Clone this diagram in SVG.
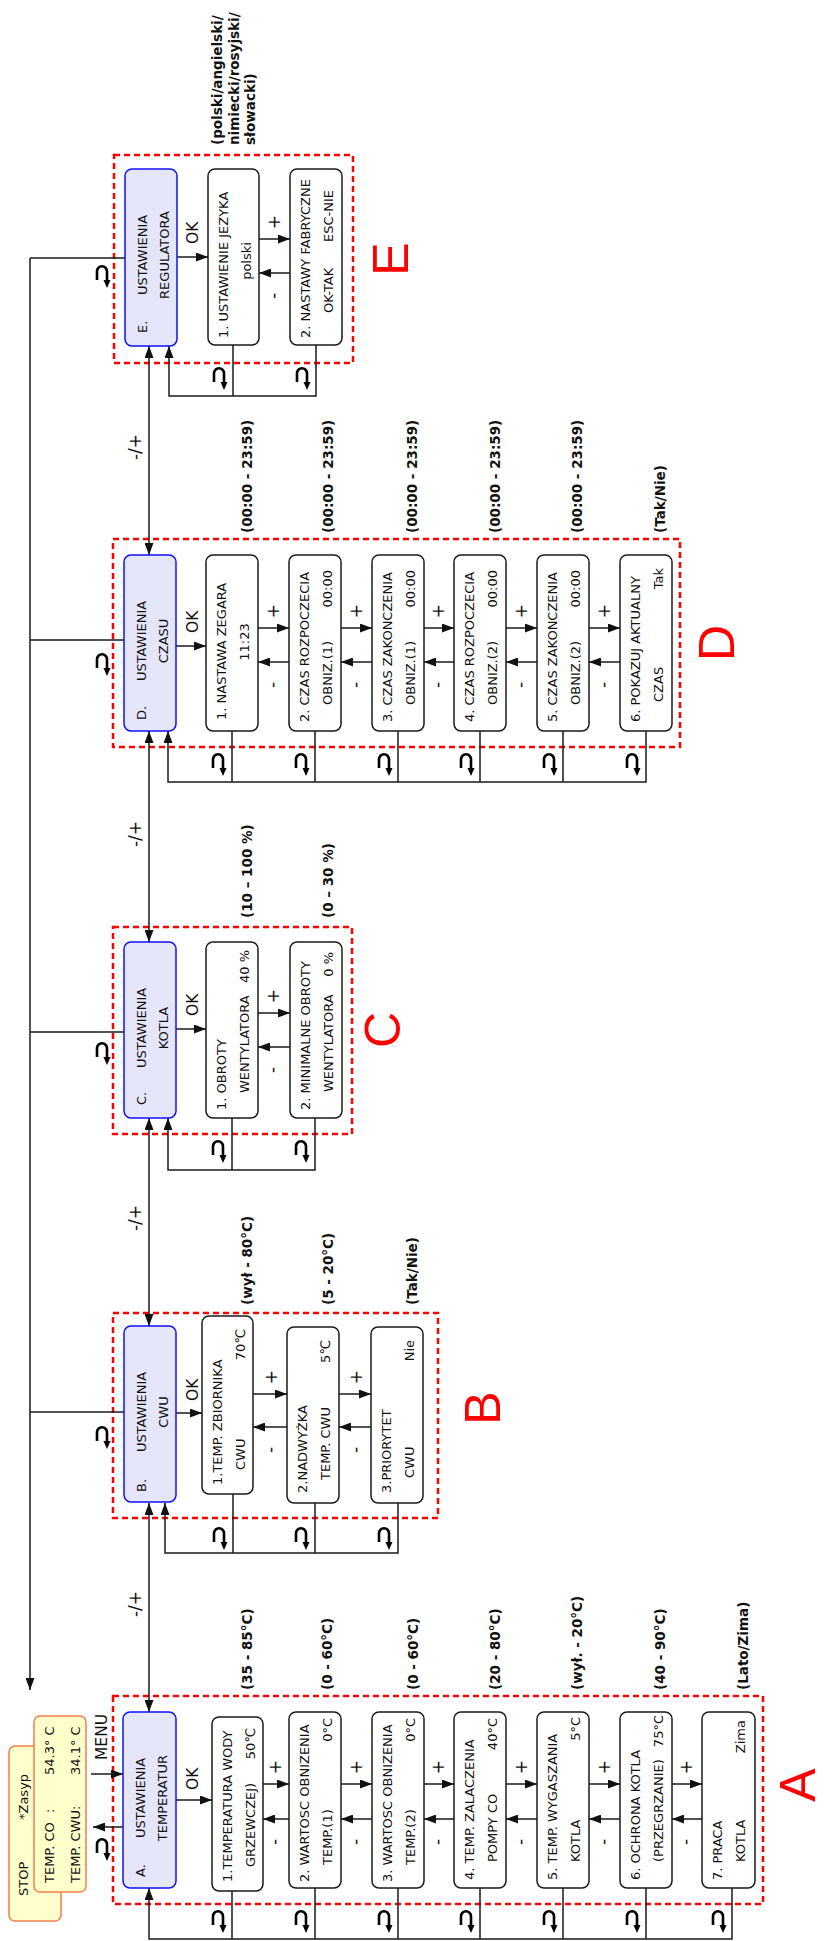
<svg xmlns="http://www.w3.org/2000/svg" width="826" height="1941" viewBox="0 0 826 1941">
<defs>
<style>
.box{fill:#fff;stroke:#1a1a1a;stroke-width:1.5}
.main{fill:#e6e6fa;stroke:#1010ff;stroke-width:1.5}
.yel{fill:#ffffcc;stroke:#f07f50;stroke-width:1.5}
.grp{fill:none;stroke:#ff0000;stroke-width:2.5;stroke-dasharray:6 4}
.ln{fill:none;stroke:#1a1a1a;stroke-width:1.5}
.t{font-family:"DejaVu Sans",Verdana,sans-serif;font-size:13px;fill:#111}
.r{font-weight:bold;font-size:13.5px}
.s{font-size:17px}
.k{font-size:15.5px}
.e{text-anchor:end}
.m{text-anchor:middle}
.big{font-family:"Liberation Sans",Arial,sans-serif;font-size:50px;fill:#ff0000;text-anchor:middle}
</style>
<marker id="ah" viewBox="0 0 12 9" refX="12" refY="4.5" markerWidth="12" markerHeight="9" markerUnits="userSpaceOnUse" orient="auto-start-reverse"><path d="M0,0 L12,4.5 L0,9 z" fill="#111"/></marker>
<g id="ret"><path d="M-5,15 V6.3 A5,5 0 0 1 5,6.3 V15" fill="none" stroke="#000" stroke-width="2.6"/><path d="M1.5,15 L8.5,15 L5,23 z" fill="#000"/></g>
</defs>
<rect width="826" height="1941" fill="#fff"/>

<g id="groups">
<rect class="grp" x="113" y="1696" width="650" height="208"/>
<rect class="grp" x="113" y="1313" width="325" height="205"/>
<rect class="grp" x="113" y="927" width="239" height="207"/>
<rect class="grp" x="113" y="539" width="567" height="208"/>
<rect class="grp" x="114" y="155" width="239" height="208"/>
</g>

<g id="connectors">
<path class="ln" d="M30,258 V1690" marker-end="url(#ah)"/>
<path class="ln" d="M30,258 H125 M30,640 H124 M30,1032 H124 M30,1412 H124"/>
<use href="#ret" x="102" y="265"/>
<use href="#ret" x="102" y="653"/>
<use href="#ret" x="102" y="1042"/>
<use href="#ret" x="102" y="1426"/>
<use href="#ret" x="102" y="1838"/>
<line class="ln" x1="91" y1="1774" x2="123" y2="1774" marker-end="url(#ah)"/>
<line class="ln" x1="123" y1="1827" x2="93" y2="1827" marker-end="url(#ah)"/>
<line class="ln" x1="176" y1="1800" x2="212" y2="1800" marker-end="url(#ah)"/>
<line class="ln" x1="176" y1="1413" x2="202" y2="1413" marker-end="url(#ah)"/>
<line class="ln" x1="176" y1="1029" x2="206" y2="1029" marker-end="url(#ah)"/>
<line class="ln" x1="176" y1="646" x2="206" y2="646" marker-end="url(#ah)"/>
<line class="ln" x1="177" y1="257" x2="208" y2="257" marker-end="url(#ah)"/>
<line class="ln" x1="149" y1="346" x2="149" y2="555" marker-start="url(#ah)" marker-end="url(#ah)"/>
<line class="ln" x1="149" y1="731" x2="149" y2="942" marker-start="url(#ah)" marker-end="url(#ah)"/>
<line class="ln" x1="149" y1="1118" x2="149" y2="1326" marker-start="url(#ah)" marker-end="url(#ah)"/>
<line class="ln" x1="149" y1="1503" x2="149" y2="1712" marker-start="url(#ah)" marker-end="url(#ah)"/>
<line class="ln" x1="263" y1="1784" x2="289" y2="1784" marker-end="url(#ah)"/>
<line class="ln" x1="341" y1="1784" x2="372" y2="1784" marker-end="url(#ah)"/>
<line class="ln" x1="424" y1="1784" x2="454" y2="1784" marker-end="url(#ah)"/>
<line class="ln" x1="506" y1="1784" x2="537" y2="1784" marker-end="url(#ah)"/>
<line class="ln" x1="589" y1="1784" x2="620" y2="1784" marker-end="url(#ah)"/>
<line class="ln" x1="672" y1="1784" x2="702" y2="1784" marker-end="url(#ah)"/>
<line class="ln" x1="289" y1="1819" x2="263" y2="1819" marker-end="url(#ah)"/>
<line class="ln" x1="372" y1="1819" x2="341" y2="1819" marker-end="url(#ah)"/>
<line class="ln" x1="454" y1="1819" x2="424" y2="1819" marker-end="url(#ah)"/>
<line class="ln" x1="537" y1="1819" x2="506" y2="1819" marker-end="url(#ah)"/>
<line class="ln" x1="620" y1="1819" x2="589" y2="1819" marker-end="url(#ah)"/>
<line class="ln" x1="702" y1="1819" x2="672" y2="1819" marker-end="url(#ah)"/>
<line class="ln" x1="253" y1="1394" x2="287" y2="1394" marker-end="url(#ah)"/>
<line class="ln" x1="339" y1="1394" x2="371" y2="1394" marker-end="url(#ah)"/>
<line class="ln" x1="287" y1="1427" x2="253" y2="1427" marker-end="url(#ah)"/>
<line class="ln" x1="371" y1="1427" x2="339" y2="1427" marker-end="url(#ah)"/>
<line class="ln" x1="258" y1="1013" x2="290" y2="1013" marker-end="url(#ah)"/>
<line class="ln" x1="290" y1="1047" x2="258" y2="1047" marker-end="url(#ah)"/>
<line class="ln" x1="258" y1="628" x2="289" y2="628" marker-end="url(#ah)"/>
<line class="ln" x1="341" y1="628" x2="372" y2="628" marker-end="url(#ah)"/>
<line class="ln" x1="424" y1="628" x2="454" y2="628" marker-end="url(#ah)"/>
<line class="ln" x1="506" y1="628" x2="537" y2="628" marker-end="url(#ah)"/>
<line class="ln" x1="589" y1="628" x2="620" y2="628" marker-end="url(#ah)"/>
<line class="ln" x1="289" y1="662" x2="258" y2="662" marker-end="url(#ah)"/>
<line class="ln" x1="372" y1="662" x2="341" y2="662" marker-end="url(#ah)"/>
<line class="ln" x1="454" y1="662" x2="424" y2="662" marker-end="url(#ah)"/>
<line class="ln" x1="537" y1="662" x2="506" y2="662" marker-end="url(#ah)"/>
<line class="ln" x1="620" y1="662" x2="589" y2="662" marker-end="url(#ah)"/>
<line class="ln" x1="259" y1="239" x2="290" y2="239" marker-end="url(#ah)"/>
<line class="ln" x1="290" y1="273" x2="259" y2="273" marker-end="url(#ah)"/>
<path class="ln" d="M732,1888 V1939 H149 V1888" marker-end="url(#ah)"/>
<path class="ln" d="M232,1891 V1939 M315,1888 V1939 M398,1888 V1939 M480,1888 V1939 M563,1888 V1939 M646,1888 V1939"/>
<path class="ln" d="M398,1503 V1553 H165 V1503" marker-end="url(#ah)"/>
<path class="ln" d="M233,1494 V1553 M315,1503 V1553"/>
<path class="ln" d="M315,1118 V1170 H168 V1118" marker-end="url(#ah)"/>
<path class="ln" d="M232,1118 V1170"/>
<path class="ln" d="M646,731 V782 H168 V731" marker-end="url(#ah)"/>
<path class="ln" d="M232,731 V782 M315,731 V782 M398,731 V782 M480,731 V782 M563,731 V782"/>
<path class="ln" d="M316,345 V396 H169 V346" marker-end="url(#ah)"/>
<path class="ln" d="M233,345 V396"/>
<use href="#ret" x="218" y="1910"/><use href="#ret" x="301" y="1910"/><use href="#ret" x="384" y="1910"/><use href="#ret" x="466" y="1910"/><use href="#ret" x="549" y="1910"/><use href="#ret" x="632" y="1910"/><use href="#ret" x="718" y="1910"/>
<use href="#ret" x="219" y="1527"/><use href="#ret" x="301" y="1527"/><use href="#ret" x="384" y="1527"/>
<use href="#ret" x="218" y="1140"/><use href="#ret" x="301" y="1140"/>
<use href="#ret" x="218" y="753"/><use href="#ret" x="301" y="753"/><use href="#ret" x="384" y="753"/><use href="#ret" x="466" y="753"/><use href="#ret" x="549" y="753"/><use href="#ret" x="632" y="753"/>
<use href="#ret" x="219" y="367"/><use href="#ret" x="302" y="367"/>
</g>

<g id="labels">
<text class="t k" transform="translate(107,1760) rotate(-90)">MENU</text>
<text class="t k" transform="translate(198,1790) rotate(-90)">OK</text>
<text class="t k" transform="translate(198,1401) rotate(-90)">OK</text>
<text class="t k" transform="translate(198,1016) rotate(-90)">OK</text>
<text class="t k" transform="translate(198,633) rotate(-90)">OK</text>
<text class="t k" transform="translate(198,244) rotate(-90)">OK</text>
<text class="t s m" transform="translate(141,1604) rotate(-90)">-/+</text>
<text class="t s m" transform="translate(141,1218) rotate(-90)">-/+</text>
<text class="t s m" transform="translate(141,834) rotate(-90)">-/+</text>
<text class="t s m" transform="translate(141,447) rotate(-90)">-/+</text>
<text class="t s m" transform="translate(281,1767) rotate(-90)">+</text>
<text class="t s m" transform="translate(362,1767) rotate(-90)">+</text>
<text class="t s m" transform="translate(444,1767) rotate(-90)">+</text>
<text class="t s m" transform="translate(527,1767) rotate(-90)">+</text>
<text class="t s m" transform="translate(610,1767) rotate(-90)">+</text>
<text class="t s m" transform="translate(692,1767) rotate(-90)">+</text>
<text class="t s m" transform="translate(279.5,1842) rotate(-90)">-</text>
<text class="t s m" transform="translate(360.5,1842) rotate(-90)">-</text>
<text class="t s m" transform="translate(442.5,1842) rotate(-90)">-</text>
<text class="t s m" transform="translate(525.5,1842) rotate(-90)">-</text>
<text class="t s m" transform="translate(608.5,1842) rotate(-90)">-</text>
<text class="t s m" transform="translate(690.5,1842) rotate(-90)">-</text>
<text class="t s m" transform="translate(277,1377) rotate(-90)">+</text>
<text class="t s m" transform="translate(362,1377) rotate(-90)">+</text>
<text class="t s m" transform="translate(275.5,1450) rotate(-90)">-</text>
<text class="t s m" transform="translate(360.5,1450) rotate(-90)">-</text>
<text class="t s m" transform="translate(279,996) rotate(-90)">+</text>
<text class="t s m" transform="translate(277.5,1070) rotate(-90)">-</text>
<text class="t s m" transform="translate(279,611) rotate(-90)">+</text>
<text class="t s m" transform="translate(362,611) rotate(-90)">+</text>
<text class="t s m" transform="translate(444,611) rotate(-90)">+</text>
<text class="t s m" transform="translate(527,611) rotate(-90)">+</text>
<text class="t s m" transform="translate(610,611) rotate(-90)">+</text>
<text class="t s m" transform="translate(277.5,685) rotate(-90)">-</text>
<text class="t s m" transform="translate(360.5,685) rotate(-90)">-</text>
<text class="t s m" transform="translate(442.5,685) rotate(-90)">-</text>
<text class="t s m" transform="translate(525.5,685) rotate(-90)">-</text>
<text class="t s m" transform="translate(608.5,685) rotate(-90)">-</text>
<text class="t s m" transform="translate(280,222) rotate(-90)">+</text>
<text class="t s m" transform="translate(278.5,296) rotate(-90)">-</text>
<text class="big" transform="translate(815,1785) rotate(-90)">A</text>
<text class="big" transform="translate(500,1408) rotate(-90)">B</text>
<text class="big" transform="translate(400,1030) rotate(-90)">C</text>
<text class="big" transform="translate(734,643) rotate(-90)">D</text>
<text class="big" transform="translate(408,259) rotate(-90)">E</text>
</g>

<g id="display">
<rect class="yel" x="9" y="1746" width="52" height="175" rx="6"/>
<rect class="yel" x="34" y="1716" width="52" height="176" rx="6"/>
<text class="t" transform="translate(28,1896) rotate(-90)">STOP</text>
<text class="t" transform="translate(28,1820) rotate(-90)">*Zasyp</text>
<text class="t" transform="translate(54,1883) rotate(-90)">TEMP. CO</text>
<text class="t" transform="translate(54,1813) rotate(-90)">:</text>
<text class="t" transform="translate(54,1775) rotate(-90)">54.3° C</text>
<text class="t" transform="translate(80,1883) rotate(-90)">TEMP. CWU:</text>
<text class="t" transform="translate(80,1775) rotate(-90)">34.1° C</text>
</g>

<g id="A">
<rect class="main" x="123" y="1712" width="53" height="176" rx="7"/>
<text class="t" transform="translate(145,1877) rotate(-90)">A.</text>
<text class="t m" transform="translate(145,1798) rotate(-90)">USTAWIENIA</text>
<text class="t m" transform="translate(167,1798) rotate(-90)">TEMPERATUR</text>
</g>
<g id="A1">
<rect class="box" x="212" y="1717" width="51" height="174" rx="7"/>
<text class="t" transform="translate(232,1882) rotate(-90)">1.TEMPERATURA WODY</text>
<text class="t" transform="translate(255,1867) rotate(-90)">GRZEWCZEJ)</text>
<text class="t e" transform="translate(255,1728) rotate(-90)">50℃</text>
<text class="t r" transform="translate(251.5,1690) rotate(-90)">(35 - 85°C)</text>
</g>
<g id="A2">
<rect class="box" x="289" y="1712" width="52" height="176" rx="7"/>
<text class="t" transform="translate(309,1882) rotate(-90)">2. WARTOSC OBNIZENIA</text>
<text class="t" transform="translate(332,1865) rotate(-90)">TEMP.(1)</text>
<text class="t e" transform="translate(332,1718) rotate(-90)">0°C</text>
<text class="t r" transform="translate(331.5,1690) rotate(-90)">(0 - 60°C)</text>
</g>
<g id="A3">
<rect class="box" x="372" y="1712" width="52" height="176" rx="7"/>
<text class="t" transform="translate(392,1882) rotate(-90)">3. WARTOSC OBNIZENIA</text>
<text class="t" transform="translate(415,1865) rotate(-90)">TEMP.(2)</text>
<text class="t e" transform="translate(415,1718) rotate(-90)">0°C</text>
<text class="t r" transform="translate(417.5,1690) rotate(-90)">(0 - 60°C)</text>
</g>
<g id="A4">
<rect class="box" x="454" y="1712" width="52" height="176" rx="7"/>
<text class="t" transform="translate(474,1880) rotate(-90)">4. TEMP. ZALACZENIA</text>
<text class="t" transform="translate(497,1862) rotate(-90)">POMPY CO</text>
<text class="t e" transform="translate(497,1718) rotate(-90)">40°C</text>
<text class="t r" transform="translate(499.5,1690) rotate(-90)">(20 - 80°C)</text>
</g>
<g id="A5">
<rect class="box" x="537" y="1712" width="52" height="176" rx="7"/>
<text class="t" transform="translate(557,1880) rotate(-90)">5. TEMP. WYGASZANIA</text>
<text class="t" transform="translate(580,1862) rotate(-90)">KOTLA</text>
<text class="t e" transform="translate(580,1717) rotate(-90)">5°C</text>
<text class="t r" transform="translate(581.5,1690) rotate(-90)">(wył. - 20°C)</text>
</g>
<g id="A6">
<rect class="box" x="620" y="1712" width="52" height="176" rx="7"/>
<text class="t" transform="translate(640,1880) rotate(-90)">6. OCHRONA KOTLA</text>
<text class="t" transform="translate(663,1862) rotate(-90)">(PRZEGRZANIE)</text>
<text class="t e" transform="translate(663,1715) rotate(-90)">75°C</text>
<text class="t r" transform="translate(664.5,1690) rotate(-90)">(40 - 90°C)</text>
</g>
<g id="A7">
<rect class="box" x="702" y="1712" width="53" height="176" rx="7"/>
<text class="t" transform="translate(722,1880) rotate(-90)">7. PRACA</text>
<text class="t" transform="translate(745,1862) rotate(-90)">KOTLA</text>
<text class="t e" transform="translate(745,1720) rotate(-90)">Zima</text>
<text class="t r" transform="translate(747.5,1690) rotate(-90)">(Lato/Zima)</text>
</g>

<g id="B">
<rect class="main" x="124" y="1326" width="52" height="176" rx="7"/>
<text class="t" transform="translate(146,1492) rotate(-90)">B.</text>
<text class="t m" transform="translate(146,1412) rotate(-90)">USTAWIENIA</text>
<text class="t m" transform="translate(168,1412) rotate(-90)">CWU</text>
</g>
<g id="B1">
<rect class="box" x="202" y="1316" width="51" height="178" rx="7"/>
<text class="t" transform="translate(222,1485) rotate(-90)">1.TEMP. ZBIORNIKA</text>
<text class="t" transform="translate(245,1470) rotate(-90)">CWU</text>
<text class="t e" transform="translate(245,1329) rotate(-90)">70℃</text>
<text class="t r" transform="translate(251.5,1305) rotate(-90)">(wył - 80°C)</text>
</g>
<g id="B2">
<rect class="box" x="287" y="1327" width="52" height="176" rx="7"/>
<text class="t" transform="translate(307,1493) rotate(-90)">2.NADWYŻKA</text>
<text class="t" transform="translate(330,1480) rotate(-90)">TEMP. CWU</text>
<text class="t e" transform="translate(330,1340) rotate(-90)">5℃</text>
<text class="t r" transform="translate(332.5,1305) rotate(-90)">(5 - 20°C)</text>
</g>
<g id="B3">
<rect class="box" x="371" y="1327" width="52" height="176" rx="7"/>
<text class="t" transform="translate(391,1493) rotate(-90)">3.PRIORYTET</text>
<text class="t" transform="translate(414,1478) rotate(-90)">CWU</text>
<text class="t e" transform="translate(414,1340) rotate(-90)">Nie</text>
<text class="t r" transform="translate(416.5,1305) rotate(-90)">(Tak/Nie)</text>
</g>

<g id="C">
<rect class="main" x="124" y="942" width="52" height="176" rx="7"/>
<text class="t" transform="translate(146,1105) rotate(-90)">C.</text>
<text class="t m" transform="translate(146,1028) rotate(-90)">USTAWIENIA</text>
<text class="t m" transform="translate(168,1028) rotate(-90)">KOTLA</text>
</g>
<g id="C1">
<rect class="box" x="206" y="942" width="52" height="176" rx="7"/>
<text class="t" transform="translate(226,1110) rotate(-90)">1. OBROTY</text>
<text class="t" transform="translate(249,1093) rotate(-90)">WENTYLATORA</text>
<text class="t e" transform="translate(249,950) rotate(-90)">40 %</text>
<text class="t r" transform="translate(251.5,918) rotate(-90)">(10 – 100 %)</text>
</g>
<g id="C2">
<rect class="box" x="290" y="942" width="52" height="176" rx="7"/>
<text class="t" transform="translate(310,1110) rotate(-90)">2. MINIMALNE OBROTY</text>
<text class="t" transform="translate(333,1092) rotate(-90)">WENTYLATORA</text>
<text class="t e" transform="translate(333,952) rotate(-90)">0 %</text>
<text class="t r" transform="translate(332.5,918) rotate(-90)">(0 – 30 %)</text>
</g>

<g id="D">
<rect class="main" x="124" y="555" width="52" height="176" rx="7"/>
<text class="t" transform="translate(146,720) rotate(-90)">D.</text>
<text class="t m" transform="translate(146,641) rotate(-90)">USTAWIENIA</text>
<text class="t m" transform="translate(168,641) rotate(-90)">CZASU</text>
</g>
<g id="D1">
<rect class="box" x="206" y="555" width="52" height="176" rx="7"/>
<text class="t" transform="translate(226,720) rotate(-90)">1. NASTAWA ZEGARA</text>
<text class="t m" transform="translate(249,642) rotate(-90)">11:23</text>
<text class="t r" transform="translate(251.5,533) rotate(-90)">(00:00 - 23:59)</text>
</g>
<g id="D2">
<rect class="box" x="289" y="555" width="52" height="176" rx="7"/>
<text class="t" transform="translate(309,722) rotate(-90)">2. CZAS ROZPOCZECIA</text>
<text class="t" transform="translate(332,705) rotate(-90)">OBNIZ.(1)</text>
<text class="t e" transform="translate(332,570) rotate(-90)">00:00</text>
<text class="t r" transform="translate(332.5,533) rotate(-90)">(00:00 - 23:59)</text>
</g>
<g id="D3">
<rect class="box" x="372" y="555" width="52" height="176" rx="7"/>
<text class="t" transform="translate(392,722) rotate(-90)">3. CZAS ZAKONCZENIA</text>
<text class="t" transform="translate(415,705) rotate(-90)">OBNIZ.(1)</text>
<text class="t e" transform="translate(415,570) rotate(-90)">00:00</text>
<text class="t r" transform="translate(416.5,533) rotate(-90)">(00:00 - 23:59)</text>
</g>
<g id="D4">
<rect class="box" x="454" y="555" width="52" height="176" rx="7"/>
<text class="t" transform="translate(474,722) rotate(-90)">4. CZAS ROZPOCZECIA</text>
<text class="t" transform="translate(497,705) rotate(-90)">OBNIZ.(2)</text>
<text class="t e" transform="translate(497,570) rotate(-90)">00:00</text>
<text class="t r" transform="translate(499.5,533) rotate(-90)">(00:00 - 23:59)</text>
</g>
<g id="D5">
<rect class="box" x="537" y="555" width="52" height="176" rx="7"/>
<text class="t" transform="translate(557,722) rotate(-90)">5. CZAS ZAKONCZENIA</text>
<text class="t" transform="translate(580,705) rotate(-90)">OBNIZ.(2)</text>
<text class="t e" transform="translate(580,570) rotate(-90)">00:00</text>
<text class="t r" transform="translate(581.5,533) rotate(-90)">(00:00 - 23:59)</text>
</g>
<g id="D6">
<rect class="box" x="620" y="555" width="52" height="176" rx="7"/>
<text class="t" transform="translate(640,722) rotate(-90)">6. POKAZUJ AKTUALNY</text>
<text class="t" transform="translate(663,702) rotate(-90)">CZAS</text>
<text class="t e" transform="translate(663,568) rotate(-90)">Tak</text>
<text class="t r" transform="translate(664.5,533) rotate(-90)">(Tak/Nie)</text>
</g>

<g id="E">
<rect class="main" x="125" y="169" width="52" height="177" rx="7"/>
<text class="t" transform="translate(147,333) rotate(-90)">E.</text>
<text class="t m" transform="translate(147,255) rotate(-90)">USTAWIENIA</text>
<text class="t m" transform="translate(169,255) rotate(-90)">REGULATORA</text>
</g>
<g id="E1">
<rect class="box" x="208" y="169" width="51" height="176" rx="7"/>
<text class="t" transform="translate(228,338) rotate(-90)">1. USTAWIENIE JEZYKA</text>
<text class="t m" transform="translate(251,261) rotate(-90)">polski</text>
<text class="t r" transform="translate(222,145) rotate(-90)">(polski/angielski/</text>
<text class="t r" transform="translate(239,145) rotate(-90)">nimiecki/rosyjski/</text>
<text class="t r" transform="translate(255,145) rotate(-90)">słowacki)</text>
</g>
<g id="E2">
<rect class="box" x="290" y="169" width="52" height="176" rx="7"/>
<text class="t" transform="translate(310,338) rotate(-90)">2. NASTAWY FABRYCZNE</text>
<text class="t" transform="translate(333,313) rotate(-90)">OK-TAK</text>
<text class="t e" transform="translate(333,190) rotate(-90)">ESC-NIE</text>
</g>
</svg>
